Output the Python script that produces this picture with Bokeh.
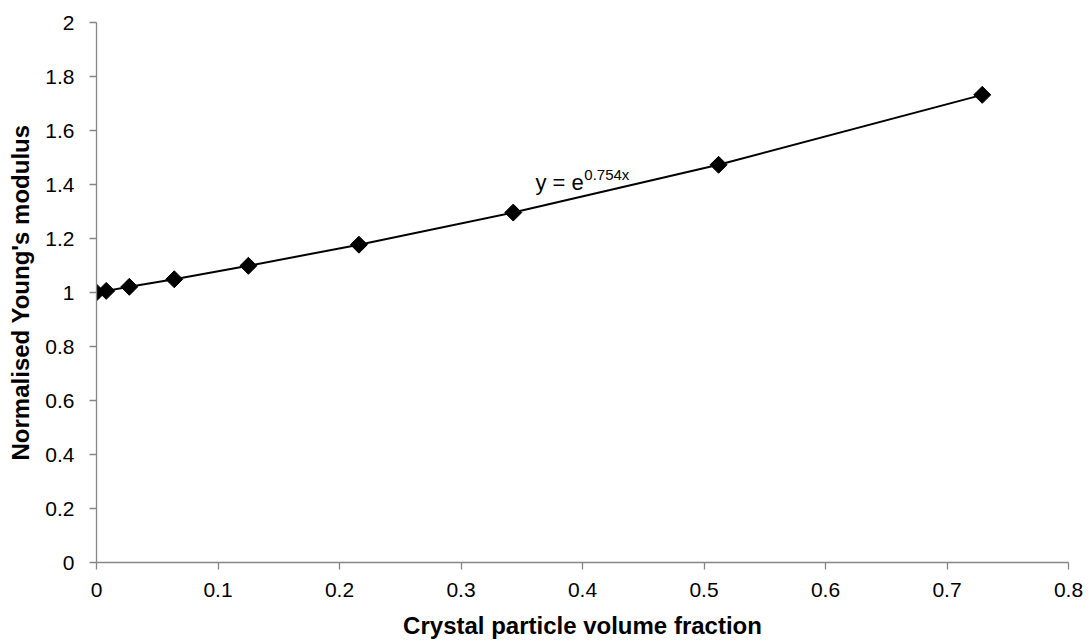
import numpy as np
from bokeh.plotting import figure
from bokeh.models import Label, ColumnDataSource
from bokeh.embed import file_html
from bokeh.resources import INLINE

# ---- data ----
volume_fraction = [0.0, 0.008, 0.027, 0.064, 0.125, 0.216, 0.343, 0.512, 0.729]
normalised_modulus = [1.0, 1.006, 1.021, 1.049, 1.099, 1.177, 1.296, 1.473, 1.732]

x_ticks = [0, 0.1, 0.2, 0.3, 0.4, 0.5, 0.6, 0.7, 0.8]
x_tick_labels = ["0", "0.1", "0.2", "0.3", "0.4", "0.5", "0.6", "0.7", "0.8"]
y_ticks = [0, 0.2, 0.4, 0.6, 0.8, 1.0, 1.2, 1.4, 1.6, 1.8, 2.0]
y_tick_labels = ["0", "0.2", "0.4", "0.6", "0.8", "1", "1.2", "1.4", "1.6", "1.8", "2"]

x_title = "Crystal particle volume fraction"
y_title = "Normalised Young's modulus"
eq_base = "y = e"
eq_exp = "0.754x"

FONT = "Liberation Sans"
AXIS_COLOR = "#868686"

src = ColumnDataSource(dict(x=volume_fraction, y=normalised_modulus))

p = figure(width=1089, height=641, x_range=(0, 0.8), y_range=(0, 2),
           output_backend="svg", toolbar_location=None,
           min_border_left=96, min_border_right=21, min_border_top=22, min_border_bottom=76)
p.outline_line_color = None
p.xgrid.visible = False
p.ygrid.visible = False
p.background_fill_color = "white"
p.border_fill_color = "white"

for ax, ticks, labels, title in ((p.xaxis[0], x_ticks, x_tick_labels, x_title),
                                 (p.yaxis[0], y_ticks, y_tick_labels, y_title)):
    ax.ticker = ticks
    ax.major_label_overrides = {t: l for t, l in zip(ticks, labels)}
    ax.axis_label = title
    ax.axis_line_color = AXIS_COLOR
    ax.axis_line_width = 1.3
    ax.major_tick_line_color = AXIS_COLOR
    ax.major_tick_line_width = 1.3
    ax.major_tick_out = 7
    ax.major_tick_in = 0
    ax.minor_tick_line_color = None
    ax.major_label_text_font = FONT
    ax.major_label_text_font_size = "21px"
    ax.major_label_text_color = "black"
    ax.axis_label_text_font = FONT
    ax.axis_label_text_font_style = "bold"
    ax.axis_label_text_font_size = "24px"
    ax.axis_label_text_color = "black"

p.xaxis.major_label_standoff = 13
p.xaxis.axis_label_standoff = 12
p.yaxis.major_label_standoff = 15
p.yaxis.axis_label_standoff = 8

p.line("x", "y", source=src, line_color="black", line_width=2)
p.scatter("x", "y", source=src, marker="square", angle=np.pi / 4, size=12,
          fill_color="black", line_color="black")

p.add_layout(Label(x=0.3613, y=1.407, text=eq_base, text_font=FONT, text_font_size="22px",
                   text_color="black", text_baseline="alphabetic", text_align="left"))
p.add_layout(Label(x=0.4015, y=1.436, text=eq_exp, text_font=FONT, text_font_size="15px",
                   text_color="black", text_baseline="alphabetic", text_align="left"))

open("out.html", "w").write(file_html(p, INLINE))
